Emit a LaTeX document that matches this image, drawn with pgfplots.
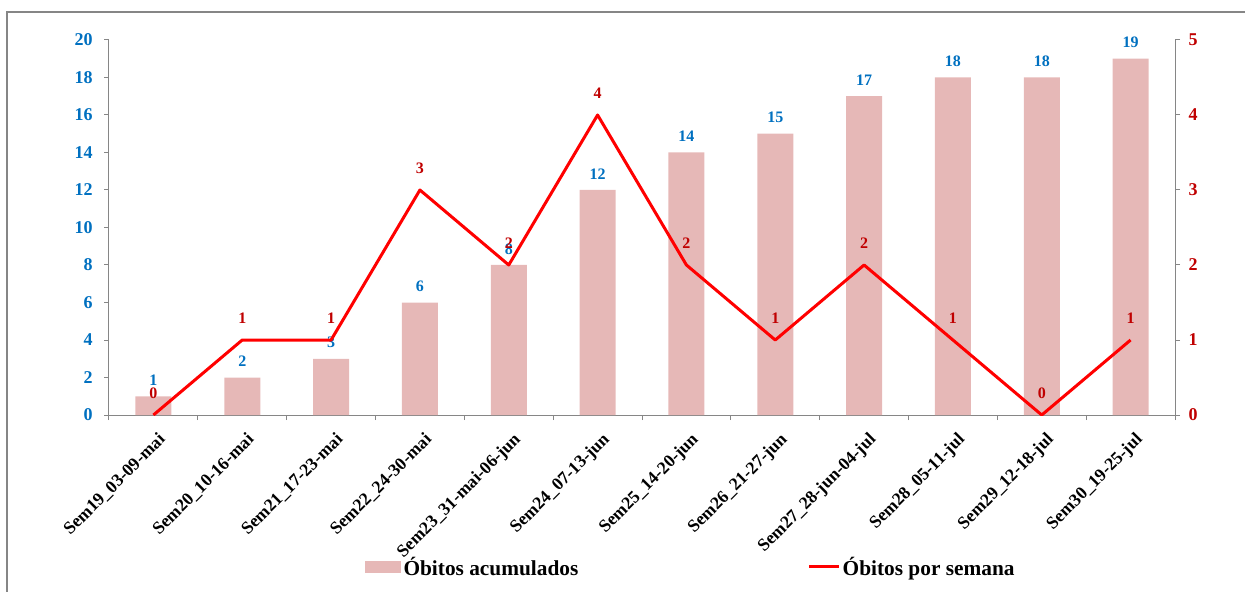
\documentclass[border=0pt]{standalone}
\usepackage{fontspec}
\setmainfont{Liberation Serif}
\usepackage{pgfplots}
\pgfplotsset{compat=1.18}
\definecolor{barc}{HTML}{E6B8B7}
\definecolor{lblue}{HTML}{0070C0}
\definecolor{dred}{HTML}{C00000}
\definecolor{axgray}{HTML}{868686}
\begin{document}
\begin{tikzpicture}
\useasboundingbox (-81.75pt,-132.75pt) rectangle (852pt,311.25pt);
\draw[axgray, line width=0.9pt] (-76.5pt,-140pt) -- (-76.5pt,302.25pt) -- (870pt,302.25pt);
\begin{axis}[
  at={(0,0)}, anchor=south west,
  scale only axis, width=799.5pt, height=281.25pt,
  xmin=-0.5, xmax=11.5, ymin=0, ymax=20,
  axis x line*=bottom, axis y line*=left,
  axis line style={axgray, line width=0.75pt, -},
  xtick={0,...,11},
  xticklabels={Sem19\_03-09-mai, Sem20\_10-16-mai, Sem21\_17-23-mai, Sem22\_24-30-mai, Sem23\_31-mai-06-jun, Sem24\_07-13-jun, Sem25\_14-20-jun, Sem26\_21-27-jun, Sem27\_28-jun-04-jul, Sem28\_05-11-jul, Sem29\_12-18-jul, Sem30\_19-25-jul},
  major x tick style={draw=none},
  minor xtick={-0.5,0.5,...,11.5},
  minor tick length=3.75pt,
  major tick length=3.75pt,
  tick align=outside,
  tick style={axgray, line width=0.75pt},
  x tick label style={rotate=45, anchor=north east, font=\fontsize{13.3}{13.3}\selectfont\bfseries, inner sep=1pt, xshift=-3pt, yshift=-7pt},
  ytick={0,2,...,20},
  y tick label style={font=\fontsize{13.5}{13.5}\selectfont\bfseries, text=lblue, xshift=-5pt},
  /pgf/number format/assume math mode=true,
  nodes near coords,
  every node near coord/.append style={font=\fontsize{12}{12}\selectfont\bfseries, text=lblue, anchor=center, yshift=12pt},
]
\addplot[ybar, bar width=27pt, fill=barc, draw=none] coordinates {
(0,1) (1,2) (2,3) (3,6) (4,8) (5,12) (6,14) (7,15) (8,17) (9,18) (10,18) (11,19)};
\end{axis}
\begin{axis}[
  at={(0,0)}, anchor=south west,
  scale only axis, width=799.5pt, height=281.25pt,
  xmin=-0.5, xmax=11.5, ymin=0, ymax=5,
  axis x line=none, axis y line*=right,
  axis line style={axgray, line width=0.75pt, -},
  tick align=outside, major tick length=3.75pt,
  tick style={axgray, line width=0.75pt},
  ytick={0,...,5},
  y tick label style={font=\fontsize{13.5}{13.5}\selectfont\bfseries, text=dred, xshift=3pt},
  /pgf/number format/assume math mode=true,
  legend style={at={(0.546,-0.405)}, anchor=center, draw=none, fill=none,
    font=\fontsize{16}{16}\selectfont\bfseries, legend columns=2,
    /tikz/every even column/.append style={column sep=170pt}},
  legend cell align=left,
]
\addlegendimage{area legend, fill=barc, draw=none, legend image code/.code={\fill[barc] (-1.5pt,-4.5pt) rectangle (25.5pt,4.5pt);}}
\addlegendentry{Óbitos acumulados}
\addplot[red, line width=2.25pt, line join=round, mark=none,
  nodes near coords,
  every node near coord/.append style={font=\fontsize{12}{12}\selectfont\bfseries, text=dred, anchor=center, yshift=16.5pt},
  legend image code/.code={\draw[red, line width=2.25pt] (-2pt,0pt) -- (20pt,0pt);}]
coordinates {(0,0) (1,1) (2,1) (3,3) (4,2) (5,4) (6,2) (7,1) (8,2) (9,1) (10,0) (11,1)};
\addlegendentry{Óbitos por semana}
\end{axis}
\end{tikzpicture}
\end{document}
